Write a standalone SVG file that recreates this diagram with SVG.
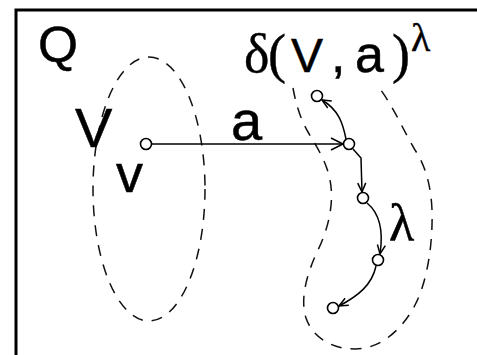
<svg xmlns="http://www.w3.org/2000/svg" width="477" height="355" viewBox="0 0 477 355">
<style>
.frame{stroke:#000;stroke-width:3;fill:none}
.dash{fill:none;stroke:#111;stroke-width:1.5;stroke-dasharray:11 9}
.conn{fill:none;stroke:#000;stroke-width:1.5}
.node{fill:#fff;stroke:#000;stroke-width:1.6}
.sans{font-family:"Liberation Sans",Arial,sans-serif;fill:#000;stroke:#000;stroke-width:0.5}
.serif{font-family:"Liberation Serif","Times New Roman",serif;fill:#000;stroke:#000;stroke-width:0.4}
</style>
<defs>
<marker id="arrBig" markerUnits="userSpaceOnUse" markerWidth="20" markerHeight="16" refX="14" refY="7" orient="auto" overflow="visible">
<path d="M2,1 L14,7 L2,13" fill="none" stroke="#000" stroke-width="1.5"/>
</marker>
<marker id="arr" markerUnits="userSpaceOnUse" markerWidth="14" markerHeight="12" refX="10" refY="5" orient="auto" overflow="visible">
<path d="M1,1 L10,5 L1,9" fill="none" stroke="#000" stroke-width="1.5"/>
</marker>
</defs>
<rect width="477" height="355" fill="#fff"/>
<g id="frame">
<path class="frame" d="M16,355 L16,10 L477,10"/>
</g>
<g id="setQ-label">
<text class="sans" x="38" y="62" font-size="50" textLength="40" lengthAdjust="spacingAndGlyphs">Q</text>
</g>
<g id="setV">
<ellipse class="dash" cx="149" cy="189" rx="56" ry="132"/>
<text class="sans" x="75" y="147" font-size="56">V</text>
</g>
<g id="setDelta">
<path class="dash" d="M293,88 C296,105 301,120 308,132 C316,146 326,160 330,180 C334,200 330,225 318,250 C306,275 300,300 306,318 C312,336 330,349 355,349 C380,349 402,330 415,305 C427,282 433,245 432,210 C431,185 425,165 415,150 C403,130 393,105 377,85"/>
<text x="244" y="72" font-size="54"><tspan class="serif">δ</tspan><tspan class="serif" x="268">(</tspan><tspan class="sans" x="291" font-size="48">V</tspan><tspan class="sans" x="331" font-size="52">,</tspan><tspan class="sans" x="355" font-size="52">a</tspan><tspan class="serif" x="392">)</tspan><tspan class="serif" x="411" y="51" font-size="40">λ</tspan></text>
</g>
<g id="connectors">
<path class="conn" d="M151,144 L343,144" marker-end="url(#arrBig)"/>
<path class="conn" d="M346,139 C343,124 339,110 322,100" marker-end="url(#arr)"/>
<path class="conn" d="M353,149 L361,158 L362,192" marker-end="url(#arr)"/>
<path class="conn" d="M367,203 C378,212 384,228 380,254" marker-end="url(#arr)"/>
<path class="conn" d="M376,266 C372,285 358,296 339,306" marker-end="url(#arr)"/>
</g>
<g id="label-a">
<text class="sans" x="231" y="139.5" font-size="56">a</text>
</g>
<g id="label-lambda">
<text class="serif" x="389" y="240" font-size="52">λ</text>
</g>
<g id="node-v">
<circle class="node" cx="146" cy="144" r="5.5"/>
<text class="sans" x="116" y="191.5" font-size="54">v</text>
</g>
<g id="node-b"><circle class="node" cx="349" cy="144" r="5.5"/></g>
<g id="node-a"><circle class="node" cx="317" cy="96" r="5.5"/></g>
<g id="node-c"><circle class="node" cx="363" cy="198" r="5.5"/></g>
<g id="node-d"><circle class="node" cx="378" cy="260" r="5.5"/></g>
<g id="node-e"><circle class="node" cx="333" cy="308" r="5.5"/></g>
</svg>
